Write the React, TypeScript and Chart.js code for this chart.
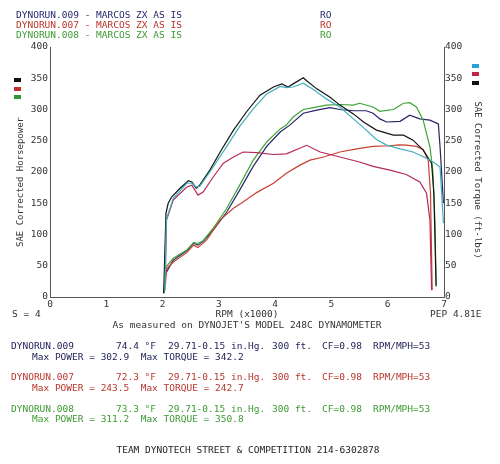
import React, { useEffect, useRef } from "react";
import { Chart, registerables } from "chart.js";
Chart.register(...registerables);

const FONT = '"DejaVu Sans Mono", "Liberation Mono", monospace';

// ---- data (RPM x1000, value) ----
const hp009Rpm = [2.02, 2.06, 2.19, 2.43, 2.55, 2.63, 2.72, 2.9, 3.14, 3.37, 3.61, 3.85, 4.09, 4.26, 4.5, 4.74, 4.97, 5.15, 5.39, 5.62, 5.74, 5.86, 5.98, 6.22, 6.39, 6.57, 6.75, 6.9, 6.93, 6.99];
const hp009 = [6, 38, 59, 74, 86, 83, 89, 107, 136, 171, 209, 241, 264, 275, 294, 299, 303, 300, 298, 298, 294, 285, 280, 281, 291, 285, 283, 277, 240, 150];

const hp007Rpm = [2.05, 2.07, 2.19, 2.43, 2.55, 2.63, 2.78, 3.02, 3.26, 3.43, 3.67, 3.97, 4.2, 4.44, 4.62, 4.86, 5.15, 5.45, 5.74, 6.04, 6.2, 6.33, 6.51, 6.63, 6.72, 6.76, 6.79];
const hp007 = [20, 45, 56, 71, 83, 79, 91, 123, 142, 152, 167, 182, 198, 211, 219, 224, 232, 237, 241, 242, 243.5, 243, 241, 236, 219, 166, 11];

const hp008Rpm = [2.04, 2.06, 2.19, 2.43, 2.55, 2.63, 2.72, 2.9, 3.14, 3.37, 3.61, 3.85, 4.09, 4.2, 4.32, 4.5, 4.68, 4.91, 5.15, 5.39, 5.5, 5.74, 5.86, 6.1, 6.28, 6.39, 6.51, 6.63, 6.75, 6.8, 6.84, 6.86];
const hp008 = [10, 48, 62, 75, 87, 86, 90, 110, 142, 179, 219, 248, 269, 275, 288, 300, 303, 307, 308, 307, 310, 304, 297, 300, 310, 311, 304, 283, 240, 203, 120, 20];

const tq008Rpm = [2.02, 2.06, 2.1, 2.16, 2.31, 2.46, 2.52, 2.6, 2.66, 2.84, 3.05, 3.26, 3.49, 3.73, 3.97, 4.12, 4.23, 4.32, 4.5, 4.56, 4.74, 4.97, 5.15, 5.39, 5.57, 5.8, 6.1, 6.28, 6.45, 6.63, 6.78, 6.82, 6.86];
const tq008 = [6, 134, 150, 160, 174, 186, 184, 174, 179, 203, 236, 267, 296, 323, 336, 341, 336, 341, 350.8, 346, 333, 320, 307, 293, 280, 267, 259, 259, 251, 235, 214, 166, 17];

const tq009Rpm = [2.04, 2.07, 2.19, 2.43, 2.52, 2.6, 2.66, 2.9, 3.14, 3.37, 3.61, 3.85, 4.09, 4.2, 4.32, 4.5, 4.68, 4.91, 5.15, 5.39, 5.62, 5.8, 5.98, 6.22, 6.45, 6.69, 6.81, 6.93, 6.99];
const tq009 = [10, 125, 158, 182, 182, 176, 177, 208, 241, 273, 301, 325, 337, 335, 336, 342.2, 332, 317, 304, 285, 267, 252, 243, 237, 232, 222, 216, 208, 118];

const tq007Rpm = [2.05, 2.07, 2.19, 2.43, 2.52, 2.63, 2.72, 2.9, 3.08, 3.26, 3.43, 3.67, 3.97, 4.2, 4.56, 4.8, 5.15, 5.5, 5.74, 6.04, 6.33, 6.57, 6.69, 6.75, 6.78];
const tq007 = [40, 123, 155, 176, 179, 163, 168, 192, 214, 224, 232, 231, 228, 229, 242.7, 232, 224, 216, 209, 203, 196, 184, 166, 123, 11];

const xTicks = [0, 1, 2, 3, 4, 5, 6, 7];
const yTicks = [0, 50, 100, 150, 200, 250, 300, 350, 400];

const runs = ["DYNORUN.009", "DYNORUN.007", "DYNORUN.008"];
const temps = ["74.4 °F", "72.3 °F", "73.3 °F"];
const maxPower = ["302.9", "243.5", "311.2"];
const maxTorque = ["342.2", "242.7", "350.8"];

const NAVY = "#27276e";
const RED = "#b8352b";
const GREEN = "#3d9a33";
const runColors = [NAVY, RED, GREEN];

const zip = (xs: number[], ys: number[]) => xs.map((x, i) => ({ x, y: ys[i] }));

const txt = (s: string, left: number, cy: number, color: string, extra: React.CSSProperties = {}) => (
  <div
    style={{
      position: "absolute",
      left,
      top: cy - 5,
      lineHeight: "10px",
      fontSize: "9.5px",
      whiteSpace: "pre",
      color,
      ...extra,
    }}
  >
    {s}
  </div>
);

export default function App() {
  const ref = useRef<HTMLCanvasElement | null>(null);
  useEffect(() => {
    if (!ref.current) return;
    const ds = (label: string, xs: number[], ys: number[], color: string, axis: string) => ({
      label,
      data: zip(xs, ys),
      borderColor: color,
      backgroundColor: color,
      borderWidth: 1.2,
      pointRadius: 0,
      tension: 0,
      yAxisID: axis,
    });
    const tickFont = { family: FONT, size: 9.5 };
    const grid = { display: false, drawTicks: false, tickLength: 0 };
    const chart = new Chart(ref.current, {
      type: "line",
      data: {
        datasets: [
          ds("009 Torque", tq009Rpm, tq009, "#41aebd", "y2"),
          ds("007 Torque", tq007Rpm, tq007, "#b42a57", "y2"),
          ds("008 Torque", tq008Rpm, tq008, "#141414", "y2"),
          ds("007 Power", hp007Rpm, hp007, "#c8412f", "y"),
          ds("008 Power", hp008Rpm, hp008, "#3fa33a", "y"),
          ds("009 Power", hp009Rpm, hp009, "#25256a", "y"),
        ],
      },
      options: {
        responsive: false,
        animation: false,
        layout: { padding: { top: 47, left: 0, right: 0, bottom: 0 } },
        plugins: { legend: { display: false }, tooltip: { enabled: false } },
        scales: {
          x: {
            type: "linear",
            min: 0,
            max: 7,
            afterBuildTicks: (s: any) => {
              s.ticks = xTicks.map((v) => ({ value: v }));
            },
            ticks: { color: "#333", font: tickFont, padding: 2, autoSkip: false, maxRotation: 0 },
            grid,
            border: { display: true, color: "#555", width: 1 },
            afterFit: (s: any) => {
              s.height = 167;
            },
          },
          y: {
            position: "left",
            min: 0,
            max: 400,
            afterBuildTicks: (s: any) => {
              s.ticks = yTicks.map((v) => ({ value: v }));
            },
            ticks: { color: "#333", font: tickFont, padding: 2 },
            grid,
            border: { display: true, color: "#555", width: 1 },
            afterFit: (s: any) => {
              s.width = 50;
            },
          },
          y2: {
            position: "right",
            min: 0,
            max: 400,
            afterBuildTicks: (s: any) => {
              s.ticks = yTicks.map((v) => ({ value: v }));
            },
            ticks: { color: "#333", font: tickFont, padding: 1 },
            grid,
            border: { display: true, color: "#555", width: 1 },
            afterFit: (s: any) => {
              s.width = 56;
            },
          },
        },
      } as any,
    });
    return () => chart.destroy();
  }, []);

  const sq = (left: number, top: number, color: string) => (
    <div style={{ position: "absolute", left, top, width: 7, height: 4, background: color }} />
  );

  return (
    <div
      style={{
        position: "fixed",
        left: 0,
        top: 0,
        width: 500,
        height: 464,
        background: "#fff",
        fontFamily: FONT,
        overflow: "hidden",
      }}
    >
      <canvas ref={ref} width={500} height={464} style={{ position: "absolute", left: 0, top: 0, width: 500, height: 464 }} />

      {runs.map((r, i) => (
        <React.Fragment key={r}>
          {txt(`${r} - MARCOS ZX AS IS`, 16, 15 + i * 10, runColors[i])}
          {txt("RO", 320, 15 + i * 10, runColors[i])}
        </React.Fragment>
      ))}

      {sq(14, 78, "#111")}
      {sq(14, 87, "#c0302a")}
      {sq(14, 95, "#2f9a35")}
      {sq(472, 64, "#2ba0d2")}
      {sq(472, 72, "#c02545")}
      {sq(472, 81, "#111")}

      <div
        style={{
          position: "absolute",
          left: 20,
          top: 182,
          transform: "translate(-50%, -50%) rotate(-90deg)",
          fontSize: "9px",
          lineHeight: "10px",
          whiteSpace: "nowrap",
          color: "#333",
        }}
      >
        SAE Corrected Horsepower
      </div>
      <div
        style={{
          position: "absolute",
          left: 478,
          top: 180,
          transform: "translate(-50%, -50%) rotate(90deg)",
          fontSize: "9px",
          lineHeight: "10px",
          whiteSpace: "nowrap",
          color: "#333",
        }}
      >
        SAE Corrected Torque (ft-lbs)
      </div>

      {txt("S = 4", 12, 314, "#333")}
      {txt("RPM (x1000)", 247, 314, "#333", { transform: "translateX(-50%)" })}
      {txt("PEP 4.81E", 430, 314, "#333")}
      {txt("As measured on DYNOJET'S MODEL 248C DYNAMOMETER", 247, 325, "#333", { transform: "translateX(-50%)" })}

      {runs.map((r, i) => {
        const y1 = [346, 377, 409][i];
        const y2 = [357, 388, 419][i];
        const c = i === 0 ? "#1e1e55" : runColors[i];
        return (
          <React.Fragment key={"b" + r}>
            {txt(r, 11, y1, c)}
            {txt(temps[i], 116, y1, c)}
            {txt("29.71-0.15 in.Hg.", 168, y1, c)}
            {txt("300 ft.", 272, y1, c)}
            {txt("CF=0.98", 322, y1, c)}
            {txt("RPM/MPH=53", 373, y1, c)}
            {txt(`Max POWER = ${maxPower[i]}  Max TORQUE = ${maxTorque[i]}`, 32, y2, c)}
          </React.Fragment>
        );
      })}

      {txt("TEAM DYNOTECH STREET & COMPETITION 214-6302878", 248, 450, "#222", { transform: "translateX(-50%)" })}
    </div>
  );
}
